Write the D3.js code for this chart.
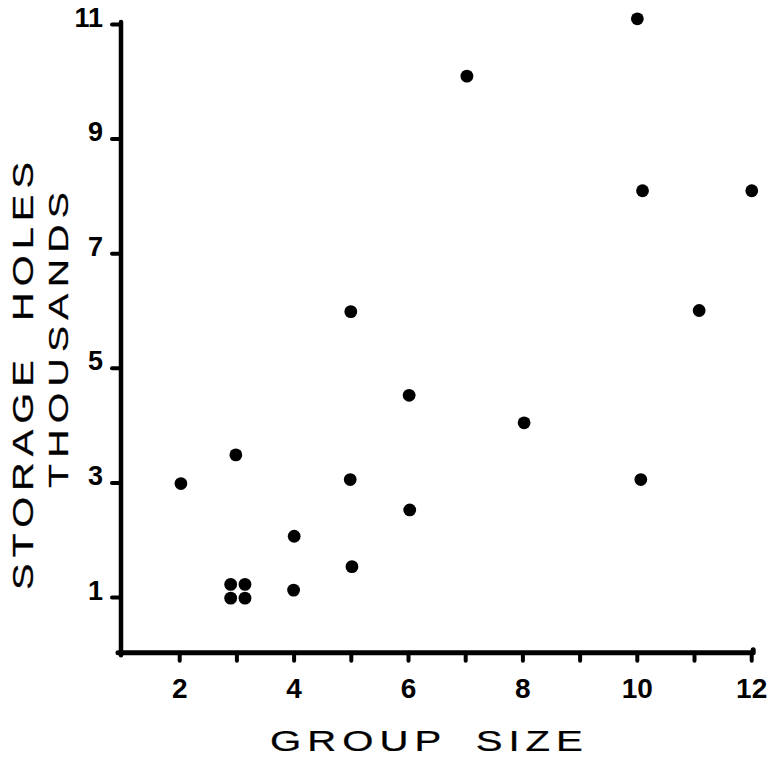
<!DOCTYPE html>
<html>
<head>
<meta charset="utf-8">
<script src="https://cdn.jsdelivr.net/npm/d3@7"></script>
<style>
  html, body { margin: 0; padding: 0; background: #fff; }
  svg { display: block; }
</style>
</head>
<body>
<svg id="chart" width="774" height="758"></svg>
<script>
// ---- data ----
const groupSize    = [2.03, 2.99, 2.9, 3.15, 2.9, 3.15, 4.01, 4.0, 5.0, 4.99, 5.02, 6.02, 6.03, 7.03, 8.03, 10.01, 10.1, 10.07, 11.09, 12.01];
const storageHoles = [2.98, 3.48, 1.22, 1.22, 0.98, 0.98, 2.06, 1.12, 5.98, 3.05, 1.53, 4.52, 2.52, 10.09, 4.04, 11.09, 8.09, 3.05, 6.0, 8.09];
const xTickValues  = [2, 3, 4, 5, 6, 7, 8, 9, 10, 11, 12];
const xTickLabels  = [2, 4, 6, 8, 10, 12];
const yTickValues  = [1, 3, 5, 7, 9, 11];
const xTitle = "GROUP SIZE";
const yTitle1 = "STORAGE HOLES";
const yTitle2 = "THOUSANDS";

const svg = d3.select("#chart");

const x = d3.scaleLinear().domain([1, 12]).range([122, 751.2]);
const y = d3.scaleLinear().domain([0, 11]).range([654.3, 24]);

const tickFont = "'Liberation Sans', Arial, Helvetica, sans-serif";
const titleFont = "'Liberation Sans', Arial, Helvetica, sans-serif";

// ---- axes ----
const xAxis = d3.axisBottom(x)
  .tickValues(xTickValues)
  .tickSize(8)
  .tickSizeOuter(0)
  .tickFormat(d => xTickLabels.includes(d) ? d : "");

const gx = svg.append("g")
  .attr("transform", `translate(0,${y(0) - 1.5})`)
  .call(xAxis);
gx.select(".domain")
  .attr("d", `M${x(1) - 4},0H${x(12) + 2}v-3`)
  .attr("fill", "none")
  .attr("stroke", "#000").attr("stroke-width", 5)
  .attr("stroke-linecap", "round").attr("stroke-linejoin", "round");
gx.selectAll(".tick line")
  .attr("stroke", "#000").attr("stroke-width", 4).attr("stroke-linecap", "round");
gx.selectAll(".tick text")
  .attr("y", 45).attr("dy", 0)
  .attr("font-family", tickFont)
  .attr("font-weight", "bold")
  .attr("font-size", 28)
  .attr("fill", "#000");

const yAxis = d3.axisLeft(y)
  .tickValues(yTickValues)
  .tickSize(9)
  .tickSizeOuter(0)
  .tickFormat(d => d);

const gy = svg.append("g")
  .attr("transform", `translate(${x(1) - 1},0)`)
  .call(yAxis);
gy.select(".domain")
  .attr("d", `M0,${y(0) + 1}V${y(11) - 2}`)
  .attr("stroke", "#000").attr("stroke-width", 4.5).attr("stroke-linecap", "round");
gy.selectAll(".tick line")
  .attr("stroke", "#000").attr("stroke-width", 4).attr("stroke-linecap", "round");
gy.selectAll(".tick text")
  .attr("x", -18).attr("dy", "2")
  .attr("font-family", tickFont)
  .attr("font-weight", "bold")
  .attr("font-size", 27)
  .attr("fill", "#000");

// ---- points ----
svg.append("g")
  .selectAll("circle")
  .data(groupSize.map((g, i) => [g, storageHoles[i]]))
  .join("circle")
  .attr("cx", d => x(d[0]))
  .attr("cy", d => y(d[1]))
  .attr("r", 6.4)
  .attr("fill", "#000");

// ---- titles (wide, extended lettering) ----
// text is drawn from its start, measured, then stretched horizontally to the target length
function wideText(txt, size, ls, ws, target, place) {
  const t = svg.append("text")
    .attr("text-anchor", "start")
    .attr("font-family", titleFont)
    .attr("font-size", size)
    .attr("letter-spacing", ls)
    .attr("word-spacing", ws)
    .attr("fill", "#000")
    .attr("stroke", "#000")
    .attr("stroke-width", 0.25)
    .text(txt);
  const L = t.node().getComputedTextLength() - ls;
  const s = target / L;
  t.attr("transform", place + ` scale(${s},1)`);
  return t;
}

wideText(xTitle, 30, 4.5, 9, 313, "translate(270,751)");
wideText(yTitle1, 29.5, 4.5, 12, 428, "translate(33,590) rotate(-90)");
wideText(yTitle2, 28.5, 4.5, 0, 296, "translate(68,488) rotate(-90)");
</script>
</body>
</html>
